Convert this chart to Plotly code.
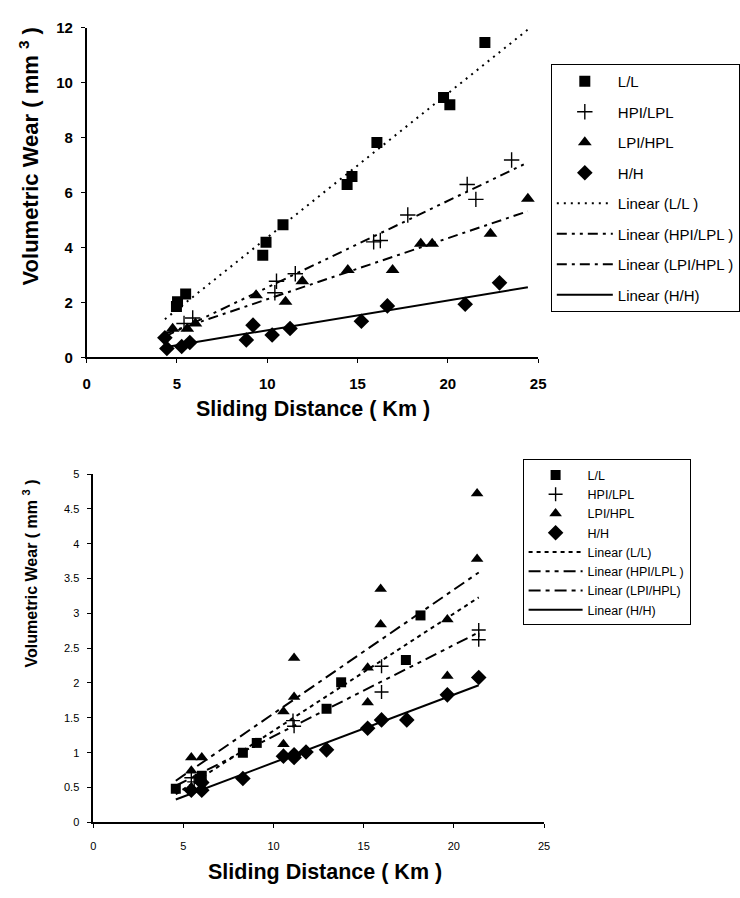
import numpy as np
import plotly.graph_objects as go

# ---------------- Top chart data ----------------
top_LL_x = [4.97, 5.03, 5.48, 9.75, 9.93, 10.87, 14.42, 14.69, 16.07, 19.76, 20.11, 22.05]
top_LL_y = [1.85, 2.02, 2.30, 3.71, 4.19, 4.82, 6.29, 6.58, 7.82, 9.46, 9.19, 11.46]
top_HP_x = [5.39, 5.87, 10.42, 10.51, 11.55, 15.89, 16.26, 17.78, 21.07, 21.55, 23.53]
top_HP_y = [1.23, 1.43, 2.35, 2.77, 3.04, 4.20, 4.25, 5.18, 6.29, 5.75, 7.18]
top_LP_x = [4.76, 5.57, 6.02, 9.38, 11.01, 11.94, 14.46, 16.94, 18.50, 19.13, 22.36, 24.43]
top_LP_y = [1.04, 1.04, 1.23, 2.26, 2.02, 2.77, 3.18, 3.18, 4.13, 4.13, 4.50, 5.77]
top_HH_x = [4.33, 4.44, 5.26, 5.71, 8.84, 9.21, 10.27, 11.26, 15.21, 16.65, 20.96, 22.86]
top_HH_y = [0.71, 0.32, 0.39, 0.54, 0.63, 1.17, 0.81, 1.05, 1.31, 1.87, 1.93, 2.71]
top_names = ["L/L", "HPI/LPL", "LPI/HPL", "H/H"]
top_fit_names = ["Linear (L/L )", "Linear (HPI/LPL )", "Linear (LPI/HPL )", "Linear (H/H)"]

# ---------------- Bottom chart data ----------------
bot_LL_x = [4.58, 5.90, 6.02, 8.30, 9.07, 12.94, 13.75, 17.34, 18.15]
bot_LL_y = [0.48, 0.62, 0.67, 1.00, 1.14, 1.63, 2.01, 2.33, 2.97]
bot_HP_x = [5.44, 5.60, 11.08, 11.14, 15.99, 15.99, 21.38, 21.38]
bot_HP_y = [0.64, 0.58, 1.46, 1.38, 2.24, 1.87, 2.76, 2.62]
bot_LP_x = [5.44, 5.44, 6.02, 10.55, 10.55, 11.14, 11.14, 15.22, 15.22, 15.94, 15.94, 19.64, 19.64, 21.29, 21.29]
bot_LP_y = [0.93, 0.74, 0.93, 1.59, 1.12, 2.36, 1.80, 2.22, 1.72, 3.35, 2.84, 2.91, 2.10, 4.72, 3.78]
bot_HH_x = [5.44, 6.02, 6.02, 8.30, 10.55, 11.14, 11.14, 11.80, 12.94, 15.22, 15.99, 17.39, 19.64, 21.38]
bot_HH_y = [0.46, 0.46, 0.57, 0.63, 0.95, 0.93, 0.97, 1.01, 1.04, 1.35, 1.47, 1.47, 1.83, 2.08]
bot_names = ["L/L", "HPI/LPL", "LPI/HPL", "H/H"]
bot_fit_names = ["Linear (L/L)", "Linear (HPI/LPL )", "Linear (LPI/HPL)", "Linear (H/H)"]

x_ticks = [0, 5, 10, 15, 20, 25]
top_y_ticks = [0, 2, 4, 6, 8, 10, 12]
bot_y_ticks = [0, 0.5, 1, 1.5, 2, 2.5, 3, 3.5, 4, 4.5, 5]

FONT = "Liberation Sans, Arial, sans-serif"

symbols = ["square", "cross-thin", "triangle-up", "diamond"]
top_sizes = [11, 11, 12, 12]
bot_sizes = [10, 10, 11, 12]
top_dash = ["2px,5px", "10px,5px,3px,5px,3px,5px", "10px,5px,3px,5px", "solid"]
bot_dash = ["4px,4px", "12px,5px,4px,5px,4px,5px", "12px,5px,4px,5px", "solid"]

fig = go.Figure()

def add_chart(series, names, fit_names, sizes, dashes, xa, ya, legend, lw):
    allx = np.concatenate([np.array(s[0]) for s in series])
    x0, x1 = allx.min(), allx.max()
    for i, (sx, sy) in enumerate(series):
        mk = dict(symbol=symbols[i], size=sizes[i], color="black")
        if symbols[i] == "cross-thin":
            mk["line"] = dict(color="black", width=1.4)
        fig.add_trace(go.Scatter(x=sx, y=sy, mode="markers", marker=mk, name=names[i],
                                 xaxis=xa, yaxis=ya, legend=legend, legendgroup=legend + "m" + str(i)))
    for i, (sx, sy) in enumerate(series):
        k, b = np.polyfit(sx, sy, 1)
        xs = np.array([x0, x1])
        fig.add_trace(go.Scatter(x=xs, y=k * xs + b, mode="lines",
                                 line=dict(color="black", width=lw, dash=dashes[i]),
                                 name=fit_names[i], xaxis=xa, yaxis=ya, legend=legend,
                                 legendgroup=legend + "l" + str(i)))

add_chart([(top_LL_x, top_LL_y), (top_HP_x, top_HP_y), (top_LP_x, top_LP_y), (top_HH_x, top_HH_y)],
          top_names, top_fit_names, top_sizes, top_dash, "x", "y", "legend", 2)
add_chart([(bot_LL_x, bot_LL_y), (bot_HP_x, bot_HP_y), (bot_LP_x, bot_LP_y), (bot_HH_x, bot_HH_y)],
          bot_names, bot_fit_names, bot_sizes, bot_dash, "x2", "y2", "legend2", 2)

W, H = 740, 898
def px(v): return v / W
def py(v): return 1 - v / H

axis_common = dict(showline=True, linecolor="black", linewidth=1.5, showgrid=False, zeroline=False,
                   ticks="outside", ticklen=4, tickcolor="black", mirror=False)

fig.update_layout(
    width=W, height=H, margin=dict(l=0, r=0, t=0, b=0),
    paper_bgcolor="white", plot_bgcolor="white",
    font=dict(family=FONT, color="black"),
    xaxis=dict(domain=[px(85), px(549)], range=[0, 25], tickvals=x_ticks, anchor="y",
               tickfont=dict(size=15, weight="bold"), ticklabelstandoff=8, **axis_common),
    yaxis=dict(domain=[py(355), py(19)], range=[0, 12], tickvals=top_y_ticks, anchor="x",
               tickfont=dict(size=15, weight="bold"), ticklabelstandoff=5, **axis_common),
    xaxis2=dict(domain=[px(91.7), px(555)], range=[0, 25], tickvals=x_ticks, anchor="y2",
                tickfont=dict(size=11), ticklabelstandoff=9, **axis_common),
    yaxis2=dict(domain=[py(829), py(474)], range=[0, 5], tickvals=bot_y_ticks, anchor="x2",
                tickfont=dict(size=11), ticklabelstandoff=6, **axis_common),
    legend=dict(x=px(562), y=py(56), xanchor="left", yanchor="top", bordercolor="black", borderwidth=1,
                bgcolor="white", font=dict(size=15, family=FONT), itemwidth=56,
                traceorder="grouped", tracegroupgap=8),
    legend2=dict(x=px(533), y=py(459), xanchor="left", yanchor="top", bordercolor="black", borderwidth=1,
                 bgcolor="white", font=dict(size=12.5, family=FONT), itemwidth=54,
                 traceorder="grouped", tracegroupgap=0),
    annotations=[
        dict(text="Sliding Distance ( Km )", x=px(318), y=py(408), xref="paper", yref="paper",
             showarrow=False, xanchor="center", yanchor="middle", font=dict(size=21.5, weight="bold")),
        dict(text="Volumetric Wear ( mm <sup>3</sup> )", x=px(26), y=py(150), xref="paper", yref="paper",
             showarrow=False, xanchor="center", yanchor="middle", textangle=-90,
             font=dict(size=22, weight="bold")),
        dict(text="Sliding Distance ( Km )", x=px(330), y=py(880), xref="paper", yref="paper",
             showarrow=False, xanchor="center", yanchor="middle", font=dict(size=21.5, weight="bold")),
        dict(text="Volumetric Wear ( mm <sup>3</sup> )", x=px(27), y=py(575), xref="paper", yref="paper",
             showarrow=False, xanchor="center", yanchor="middle", textangle=-90,
             font=dict(size=16, weight="bold")),
    ],
)

fig.write_html("out.html")
